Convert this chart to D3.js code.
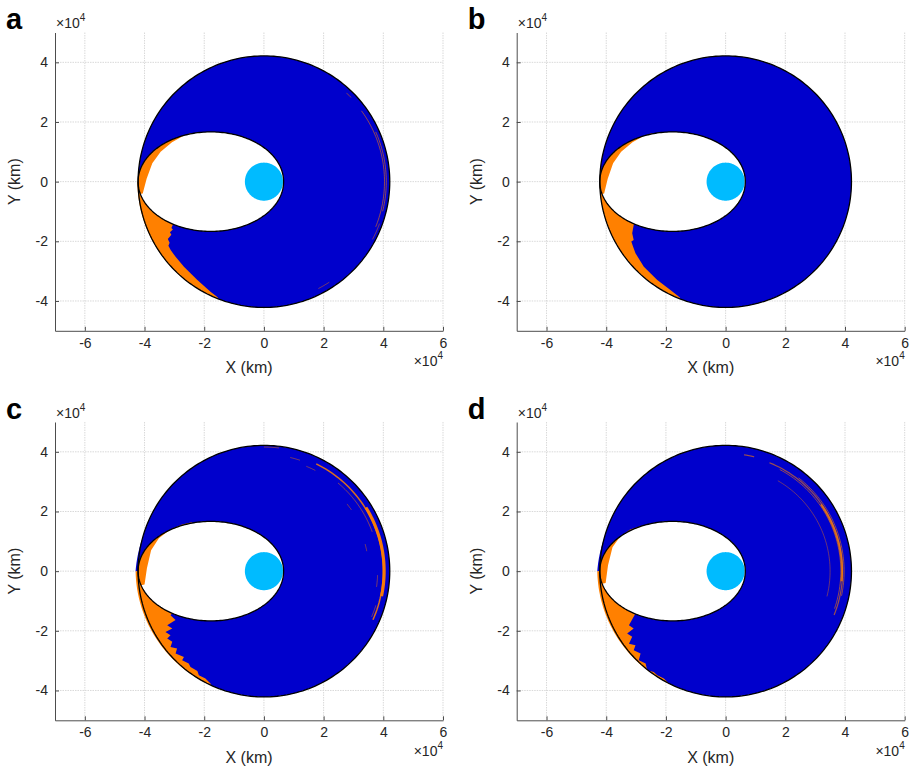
<!DOCTYPE html>
<html>
<head>
<meta charset="utf-8">
<script src="https://cdn.jsdelivr.net/npm/d3@7"></script>
<style>
  body { margin: 0; background: #fff; }
  text { font-family: "Liberation Sans", Arial, sans-serif; }
</style>
</head>
<body>
<div id="chart"></div>
<script>
// all distances in units of 1e4 km
const xTicks = [-6, -4, -2, 0, 2, 4, 6];
const yTicks = [-4, -2, 0, 2, 4];
const panelNames = ["a", "b", "c", "d"];

const rGeo = 4.2164, rEarth = 0.6378, rPerigee = 0.66;

// how far the left spill reaches past the GEO ring
const spillR = [4.24, 4.22, 4.30, 4.30];

// inner (white side) edge of the upper orange crescent, bottom -> top
const upperEdge = [
  [[-4.06,-0.40],[-3.93,0.10],[-3.74,0.62],[-3.46,1.00],[-3.08,1.32],[-2.72,1.52],[-2.45,1.63]],
  [[-4.07,-0.40],[-3.95,0.10],[-3.77,0.62],[-3.50,1.00],[-3.12,1.32],[-2.76,1.52],[-2.48,1.62]],
  [[-4.00,-0.45],[-3.92,0.10],[-3.78,0.70],[-3.52,1.10],[-3.14,1.40],[-2.74,1.56],[-2.42,1.64]],
  [[-4.02,-0.40],[-3.94,0.20],[-3.79,0.80],[-3.54,1.15],[-3.20,1.40],[-2.78,1.53],[-2.50,1.60]]
];

// jagged edge of the lower orange region, ellipse -> GEO ring
const lowerEdge = [
  [[-3.04,-1.42],[-3.10,-1.55],[-3.05,-1.60],[-3.15,-1.70],[-3.10,-1.78],[-3.22,-1.92],[-3.16,-2.05],
   [-3.20,-2.15],[-3.12,-2.30],[-2.96,-2.52],[-2.68,-2.85],[-2.23,-3.30],[-1.79,-3.69],[-1.54,-3.88]],
  [[-3.08,-1.45],[-3.13,-1.73],[-3.08,-1.96],[-3.16,-2.01],[-3.10,-2.18],[-3.02,-2.40],[-2.74,-2.85],
   [-2.29,-3.30],[-1.85,-3.63],[-1.53,-3.88]],
  [[-3.13,-1.48],[-2.96,-1.64],[-3.24,-1.81],[-3.07,-1.92],[-3.30,-2.04],[-3.13,-2.15],[-3.24,-2.26],
   [-3.07,-2.37],[-3.13,-2.54],[-2.91,-2.59],[-2.96,-2.76],[-2.68,-2.88],[-2.74,-2.99],[-2.52,-3.10],
   [-2.46,-3.21],[-2.23,-3.35],[-2.18,-3.49],[-1.96,-3.60],[-1.79,-3.77],[-1.75,-3.84]],
  [[-3.02,-1.42],[-3.24,-1.81],[-3.08,-1.92],[-3.30,-2.09],[-3.13,-2.20],[-3.24,-2.43],[-3.02,-2.48],
   [-3.08,-2.65],[-2.85,-2.76],[-2.91,-2.99],[-2.68,-3.10],[-2.63,-3.32],[-2.41,-3.38],[-2.29,-3.49],
   [-2.07,-3.60],[-1.96,-3.71],[-1.90,-3.80]]
];

// thin orange streaks on the right: [radius, fromDeg, toDeg, width, opacity]
const streaks = [
  [[4.04, 36, -22, 1, 0.55], [4.10, 24, -14, 1, 0.55], [4.06, 47, 44, 1, 0.6],
   [4.02, -57, -63, 1, 0.5], [4.12, -20, -28, 1, 0.5]],
  [],
  [[4.00, 64, -24, 1.5, 0.85], [4.03, 32, -12, 3, 0.95], [4.16, 90, 83, 1, 0.5],
   [3.91, 77, 72, 1, 0.5], [3.79, 68, 63, 1, 0.5], [3.58, 39, 35, 1, 0.5],
   [3.51, 15, 11, 1, 0.5], [3.81, -2, -8, 1, 0.5], [3.92, -17, -23, 1, 0.5],
   [3.86, 50, 20, 1, 0.5]],
  [[3.95, 81, 76, 1.2, 0.6], [3.92, 68, -22, 1.2, 0.6], [3.86, 62, -19, 1, 0.55],
   [3.97, 52, -12, 1, 0.55], [3.90, 35, -5, 2, 0.8], [3.50, 60, -14, 0.8, 0.5]]
];

const W = 913, H = 771;
const offsets = [[0, 0], [461.7, 0], [0, 389.5], [461.7, 389.5]];
const box = {left: 55, right: 443, top: 32.5, bottom: 330.8};

const blue = "#0000CC", orange = "#FF8000", earth = "#00BBFF", ink = "#262626";

const svg = d3.select("#chart").append("svg")
  .attr("width", W).attr("height", H);

// transfer orbit ellipse (perigee -> GEO apogee)
const ea = (rGeo + rPerigee) / 2, ec = (rPerigee - rGeo) / 2, eb = Math.sqrt(rGeo * rPerigee);
const rad = d => d * Math.PI / 180;
const norm = t => (t + 2 * Math.PI) % (2 * Math.PI);

function ellPts(t0, t1, n = 80) {
  return d3.range(n + 1).map(i => {
    const t = t0 + (t1 - t0) * i / n;
    return [ec + ea * Math.cos(t), eb * Math.sin(t)];
  });
}
const ellT = p => norm(Math.atan2(p[1] / eb, (p[0] - ec) / ea));

function arcPts(r0, r1, t0, t1, n = 80) {
  return d3.range(n + 1).map(i => {
    const f = i / n, t = t0 + (t1 - t0) * f, r = r0 + (r1 - r0) * f;
    return [r * Math.cos(t), r * Math.sin(t)];
  });
}

const x = d3.scaleLinear().domain([-7, 6]).range([box.left, box.right]);
const y = d3.scaleLinear().domain([-5, 5]).range([box.bottom, box.top]);
const line = d3.line().x(d => x(d[0])).y(d => y(d[1]));

panelNames.forEach((name, k) => {
  const g = svg.append("g")
    .attr("transform", `translate(${offsets[k][0]},${offsets[k][1]})`);

  // grid
  g.append("g").selectAll("line").data(xTicks).join("line")
    .attr("x1", d => x(d)).attr("x2", d => x(d))
    .attr("y1", box.top).attr("y2", box.bottom)
    .attr("stroke", "#d9d9d9").attr("stroke-dasharray", "1.5,1");
  g.append("g").selectAll("line").data(yTicks).join("line")
    .attr("y1", d => y(d)).attr("y2", d => y(d))
    .attr("x1", box.left).attr("x2", box.right)
    .attr("stroke", "#d9d9d9").attr("stroke-dasharray", "1.5,1");

  // GEO disc
  g.append("path")
    .attr("d", line(arcPts(rGeo, rGeo, 0, 2 * Math.PI, 240)) + "Z")
    .attr("fill", blue);

  // blue spill just outside the ring, upper left
  if (spillR[k] > 4.25) {
    const pts = arcPts(spillR[k], rGeo, Math.PI, rad(165), 20)
      .concat(arcPts(rGeo, rGeo, rad(165), Math.PI, 20));
    g.append("path").attr("d", line(pts) + "Z").attr("fill", blue);
  }

  // inside of the transfer ellipse
  g.append("path")
    .attr("d", line(ellPts(0, 2 * Math.PI, 240)) + "Z")
    .attr("fill", "#fff");

  // Earth
  g.append("path")
    .attr("d", line(arcPts(rEarth, rEarth, 0, 2 * Math.PI, 120)) + "Z")
    .attr("fill", earth);

  // upper orange crescent inside the ellipse
  const up = upperEdge[k];
  const upPoly = ellPts(ellT(up[0]), ellT(up[up.length - 1]), 60)
    .concat(up.slice().reverse());
  g.append("path").attr("d", line(upPoly) + "Z").attr("fill", orange);

  // lower orange region between ring and ellipse
  const lo = lowerEdge[k];
  const last = lo[lo.length - 1];
  const tEnd = norm(Math.atan2(last[1], last[0]));
  const loPoly = lo
    .concat(arcPts(rGeo, spillR[k], tEnd, Math.PI, 60))
    .concat(ellPts(Math.PI, ellT(lo[0]), 40));
  g.append("path").attr("d", line(loPoly) + "Z").attr("fill", orange);

  // streaks
  g.append("g").selectAll("path").data(streaks[k]).join("path")
    .attr("d", s => line(arcPts(s[0], s[0], rad(s[1]), rad(s[2]), 50)))
    .attr("fill", "none")
    .attr("stroke", orange)
    .attr("stroke-width", s => s[3])
    .attr("stroke-opacity", s => s[4]);

  // outlines
  g.append("path")
    .attr("d", line(arcPts(rGeo, rGeo, 0, 2 * Math.PI, 240)) + "Z")
    .attr("fill", "none").attr("stroke", "#000").attr("stroke-width", 1.3);
  g.append("path")
    .attr("d", line(ellPts(0, 2 * Math.PI, 240)) + "Z")
    .attr("fill", "none").attr("stroke", "#000").attr("stroke-width", 1.3);

  // axes
  const ax = g.append("g")
    .attr("transform", `translate(0,${box.bottom})`)
    .call(d3.axisBottom(x).tickValues(xTicks).tickFormat(d => String(d))
      .tickSizeInner(-4).tickSizeOuter(0).tickPadding(7));
  const ay = g.append("g")
    .attr("transform", `translate(${box.left},0)`)
    .call(d3.axisLeft(y).tickValues(yTicks).tickFormat(d => String(d))
      .tickSizeInner(-4).tickSizeOuter(0).tickPadding(7));
  [ax, ay].forEach(a => {
    a.select(".domain").attr("stroke", "#4d4d4d");
    a.selectAll(".tick line").attr("stroke", "#4d4d4d");
    a.selectAll("text").attr("fill", ink)
      .style("font-size", "14px")
      .style("font-family", "'Liberation Sans', Arial, sans-serif");
  });

  g.append("text")
    .attr("x", (box.left + box.right) / 2).attr("y", 373)
    .attr("text-anchor", "middle").attr("fill", ink)
    .style("font-size", "16px").text("X (km)");
  g.append("text")
    .attr("transform", `translate(20,${(box.top + box.bottom) / 2}) rotate(-90)`)
    .attr("text-anchor", "middle").attr("fill", ink)
    .style("font-size", "16px").text("Y (km)");

  // exponent labels
  const e1 = g.append("text").attr("x", 56).attr("y", 28)
    .attr("fill", ink).style("font-size", "14px");
  e1.append("tspan").text("×10");
  e1.append("tspan").attr("dy", -7).style("font-size", "10px").text("4");
  const e2 = g.append("text").attr("x", 443).attr("y", 366)
    .attr("text-anchor", "end").attr("fill", ink).style("font-size", "14px");
  e2.append("tspan").text("×10");
  e2.append("tspan").attr("dy", -7).style("font-size", "10px").text("4");

  // panel letter
  g.append("text").attr("x", 6).attr("y", 29)
    .attr("fill", "#000").style("font-size", "29px").style("font-weight", "bold")
    .text(name);
});
</script>
</body>
</html>
